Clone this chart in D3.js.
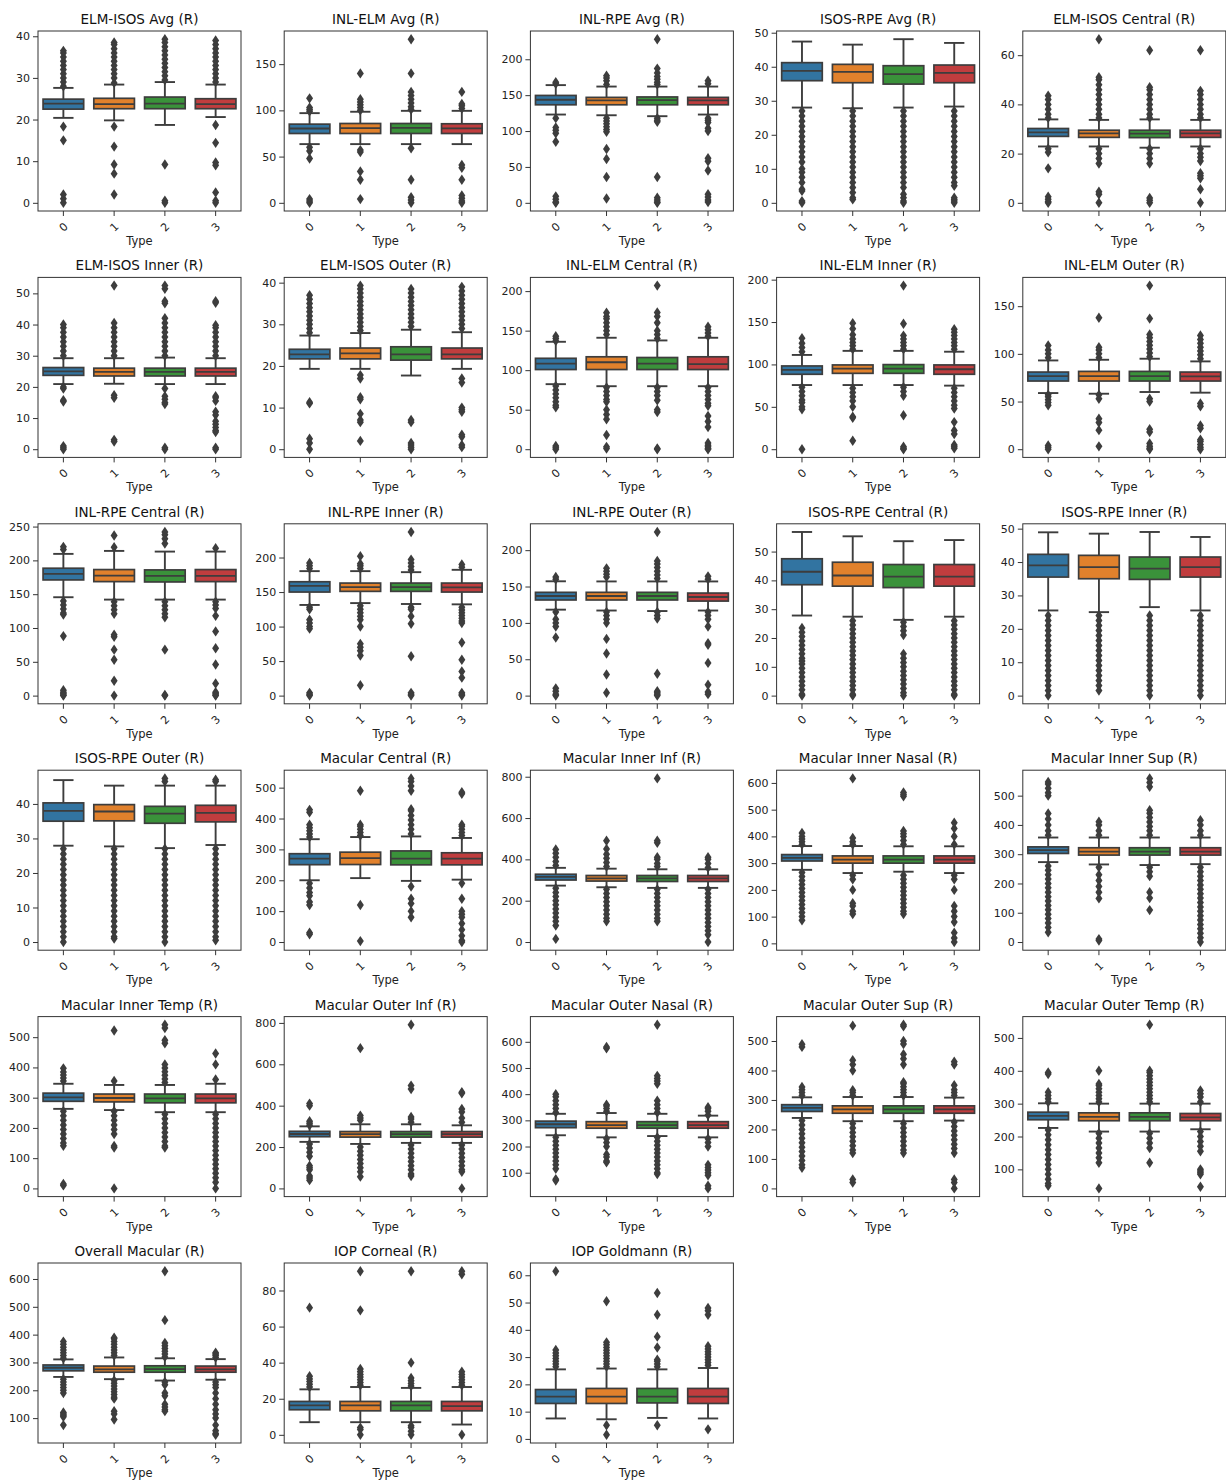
<!DOCTYPE html>
<html>
<head>
<meta charset="utf-8">
<script src="https://cdn.jsdelivr.net/npm/d3@7"></script>
<style>
  body { margin: 0; background: #fff; }
  svg { display: block; font-family: "DejaVu Sans", sans-serif; }
</style>
</head>
<body>
<svg></svg>
<script>
// panel titles, one per measured column
const titles = [
  "ELM-ISOS Avg (R)", "INL-ELM Avg (R)", "INL-RPE Avg (R)", "ISOS-RPE Avg (R)", "ELM-ISOS Central (R)",
  "ELM-ISOS Inner (R)", "ELM-ISOS Outer (R)", "INL-ELM Central (R)", "INL-ELM Inner (R)", "INL-ELM Outer (R)",
  "INL-RPE Central (R)", "INL-RPE Inner (R)", "INL-RPE Outer (R)", "ISOS-RPE Central (R)", "ISOS-RPE Inner (R)",
  "ISOS-RPE Outer (R)", "Macular Central (R)", "Macular Inner Inf (R)", "Macular Inner Nasal (R)", "Macular Inner Sup (R)",
  "Macular Inner Temp (R)", "Macular Outer Inf (R)", "Macular Outer Nasal (R)", "Macular Outer Sup (R)", "Macular Outer Temp (R)",
  "Overall Macular (R)", "IOP Corneal (R)", "IOP Goldmann (R)"
];

const types = ["0", "1", "2", "3"];
const colors = ["#3274a1", "#e1812c", "#3a923a", "#c03d3e"];

// y tick labels per panel
const yTicks = [
  [0, 10, 20, 30, 40], [0, 50, 100, 150], [0, 50, 100, 150, 200], [0, 10, 20, 30, 40, 50], [0, 20, 40, 60],
  [0, 10, 20, 30, 40, 50], [0, 10, 20, 30, 40], [0, 50, 100, 150, 200], [0, 50, 100, 150, 200], [0, 50, 100, 150],
  [0, 50, 100, 150, 200, 250], [0, 50, 100, 150, 200], [0, 50, 100, 150, 200], [0, 10, 20, 30, 40, 50], [0, 10, 20, 30, 40, 50],
  [0, 10, 20, 30, 40], [0, 100, 200, 300, 400, 500], [0, 200, 400, 600, 800], [0, 100, 200, 300, 400, 500, 600], [0, 100, 200, 300, 400, 500],
  [0, 100, 200, 300, 400, 500], [0, 200, 400, 600, 800], [100, 200, 300, 400, 500, 600], [0, 100, 200, 300, 400, 500], [100, 200, 300, 400, 500],
  [100, 200, 300, 400, 500, 600], [0, 20, 40, 60, 80], [0, 10, 20, 30, 40, 50, 60]
];

// [low whisker, q1, median, q3, high whisker] for types 0..3
const boxStats = [
  [[20.4, 22.5, 23.8, 24.9, 27.6], [19.8, 22.6, 23.7, 25.1, 28.4], [18.7, 22.6, 23.8, 25.4, 29.0], [20.6, 22.6, 23.7, 25.0, 28.4]],
  [[63.5, 75, 80.4, 85.1, 97], [63.5, 75, 80.8, 85.8, 98.5], [63.5, 75, 81, 85.8, 99.5], [63.5, 75, 80.6, 85.5, 99.5]],
  [[123, 136.6, 143.6, 149.6, 164], [122, 136.6, 142.7, 146.9, 162], [120.7, 136.6, 143, 147.5, 162], [123, 136.6, 142.7, 146.9, 162]],
  [[28, 35.9, 38.8, 41.2, 47.4], [27.8, 35.3, 38.5, 40.7, 46.5], [28, 34.9, 37.8, 40.3, 48.1], [28.3, 35.3, 38.2, 40.5, 47]],
  [[22.9, 27, 28.6, 30.2, 33.9], [22.9, 26.6, 28.2, 29.5, 33.7], [22.4, 26.5, 28.1, 29.5, 33.9], [22.9, 26.6, 28.2, 29.5, 33.7]],
  [[20.9, 23.7, 25, 26.2, 29.2], [21, 23.5, 24.8, 26, 29.2], [20.9, 23.5, 24.8, 26, 29.4], [20.9, 23.5, 24.8, 26, 29.2]],
  [[19.3, 21.7, 22.8, 24, 27.3], [19.3, 21.7, 23, 24.3, 27.9], [17.7, 21.4, 22.8, 24.6, 28.7], [19.3, 21.7, 22.8, 24.3, 28.1]],
  [[82.3, 100.8, 108.4, 115, 135.9], [79.7, 100.8, 110, 116.9, 141], [79.7, 100.8, 108.4, 116, 137.6], [79.7, 100.8, 107.6, 116.9, 141]],
  [[75.7, 88.4, 93.5, 98.2, 111.2], [75.7, 89.5, 95, 99.4, 116], [75.7, 89.5, 95, 99.8, 116], [75, 88.4, 94.3, 99.4, 115]],
  [[58.9, 71.5, 76.7, 80.9, 93.1], [58.2, 71.5, 76.7, 81.6, 93.8], [60, 71.5, 76.7, 81.6, 94.9], [59.3, 71.5, 76.4, 80.9, 92.1]],
  [[145.5, 171.1, 180, 188.4, 209.6], [142, 168.6, 177.5, 186.4, 214], [142, 168.1, 177, 185.9, 213], [142, 168.6, 177, 186.4, 213]],
  [[131.3, 150, 159, 164.9, 180.3], [134, 151, 157.2, 163, 180.3], [132.7, 151, 157.2, 163, 178.8], [132.2, 150, 156.7, 163, 182.2]],
  [[118.2, 131.5, 137, 142, 157.2], [117, 131.5, 137, 142, 157], [116.3, 131.5, 137, 142, 157], [117, 130, 135.6, 141, 157]],
  [[27.8, 38.5, 43, 47.5, 56.8], [27.4, 38, 41.7, 46.3, 55.3], [26.3, 37.5, 41.3, 45.5, 53.6], [27.4, 38, 41.3, 45.5, 54]],
  [[25.5, 35.5, 39, 42.3, 48.9], [25, 35, 38.5, 42, 48.5], [26.5, 34.8, 38, 41.5, 49], [25.5, 35.5, 38.5, 41.5, 47.5]],
  [[27.9, 35, 38, 40.3, 46.9], [27.7, 35.1, 37.8, 39.8, 45.3], [27.2, 34.4, 37.2, 39.3, 45.3], [28.1, 34.8, 37.4, 39.6, 45.3]],
  [[200, 250.5, 270, 286, 333], [207, 251, 272, 291, 340], [198, 250, 270, 295, 342], [202, 250, 270, 289, 337]],
  [[273, 300, 315, 328, 359], [265, 295, 308, 322, 355], [262, 293, 308, 322, 352], [262, 293, 308, 322, 352]],
  [[275, 308, 320, 332, 364], [263, 300, 313, 327, 364], [268, 300, 313, 327, 363], [263, 300, 313, 327, 363]],
  [[273, 302.6, 314, 325, 357], [265, 297, 309, 322, 357], [263, 297, 309, 322, 357], [266, 297, 309, 322, 357]],
  [[263, 288, 301, 315, 346], [259, 286, 299, 312, 342], [252, 283, 298, 312, 342], [252, 283, 298, 312, 346]],
  [[225, 250, 263, 276, 300], [215, 248, 262, 275, 310], [220, 248, 262, 275, 310], [220, 248, 262, 275, 305]],
  [[243, 272, 285, 297, 325], [235, 270, 282, 295, 328], [240, 270, 282, 295, 325], [235, 270, 282, 295, 318]],
  [[239, 261, 273, 284, 309], [228, 255, 268, 280, 310], [228, 255, 268, 280, 310], [230, 255, 268, 280, 308]],
  [[226, 251, 263, 274, 301], [215, 248, 260, 272, 300], [215, 248, 260, 272, 300], [222, 248, 258, 270, 300]],
  [[248, 270, 281, 291, 311], [240, 265, 275, 287, 318], [235, 265, 276, 288, 315], [238, 265, 275, 287, 312]],
  [[7, 13.9, 16.3, 18.5, 25.2], [7, 13.3, 16.3, 18.5, 26.5], [7, 13.3, 16.3, 18.5, 26], [5.7, 13.3, 15.9, 18.5, 26.5]],
  [[7.5, 13, 15.5, 18.1, 25.5], [7.2, 13, 15.5, 18.5, 25.8], [7.7, 13.2, 15.5, 18.5, 25.5], [7.5, 13, 15.5, 18.5, 26]]
];

// flier values for types 0..3
const outliers = [
  [[28, 29, 30, 31, 32, 33, 34, 35, 36, 36.5, 18.3, 15, 2, 1, 0],
   [28.8, 30, 31, 32, 33, 34, 35, 36, 37, 38, 38.5, 18.3, 13.5, 9.2, 7, 2],
   [29.5, 30.5, 31.5, 32.5, 33.5, 34.5, 35.5, 36.5, 37.5, 38.5, 39.3, 9.2, 0.5, 0],
   [29, 30, 31, 32, 33, 34, 35, 36, 37, 38, 39, 18.7, 14.4, 9.7, 9, 2.5, 0.5, 0]],
  [[99, 101, 103, 113, 60, 56, 48, 4, 2, 0],
   [100, 103, 106, 109, 112, 140, 57, 55, 34, 25, 4],
   [101, 104, 108, 112, 116, 120, 140, 177, 59, 25, 6, 3, 0],
   [102, 105, 107, 120, 41, 38, 25, 8, 5, 2, 0]],
  [[166, 168, 118, 105, 101, 97, 85, 9, 5, 1, 0],
   [165, 170, 174, 177, 118, 114, 110, 106, 102, 99, 75, 61, 36, 6],
   [165, 168, 172, 176, 181, 187, 228, 118, 115, 113, 36, 7, 4, 1, 0],
   [166, 170, 118, 115, 112, 104, 100, 62, 58, 45, 12, 8, 4, 1]],
  [[27, 25.5, 24, 22.5, 21, 19.5, 18, 16.5, 15, 13.5, 12, 10, 9, 7.5, 6, 4, 3.5, 0.5, 0],
   [27, 25.5, 24, 22.5, 21, 19.5, 18, 16.5, 15, 13.5, 12, 10.5, 9, 7.5, 6, 4.5, 3, 1.5, 1],
   [27, 25.5, 24, 22.5, 21, 19.5, 18, 16.5, 15, 13.5, 12, 10.5, 9, 7.5, 6, 4.5, 2.5, 1.5, 0.5, 0],
   [27, 25.5, 24, 22.5, 21, 19.5, 18, 16.5, 15, 13.5, 12, 10.5, 9, 7.5, 6, 5, 1.5, 1, 0.5, 0]],
  [[34.5, 36, 38, 40, 42, 43.5, 22, 20.5, 14, 2.5, 1.5, 0.5, 0],
   [34.5, 36, 38, 40, 42, 44, 46, 48, 50, 51, 66.5, 22, 20, 18, 16, 4.5, 3.5, 0],
   [34.5, 36, 38, 40, 42, 44, 46, 47, 62, 22, 20, 18, 16, 2, 1, 0],
   [34.5, 36, 38, 40, 42, 44, 45.5, 62, 22, 20, 18.5, 17, 12, 11, 10, 5.5, 0]],
  [[30, 31.5, 33, 34.5, 36, 37.5, 39, 40, 20, 19.5, 15.7, 15.3, 1, 0.5, 0],
   [30, 31.5, 33, 34.5, 36, 37.5, 39, 40.5, 52.5, 17.3, 16.5, 3, 2.5],
   [30, 31.5, 33, 34.5, 36, 37.5, 39, 40.5, 42, 46.8, 47.5, 51.5, 52.5, 19.5, 17, 16, 15, 14.5, 0.5, 0],
   [30, 31.5, 33, 34.5, 36, 37.5, 39, 39.8, 47, 47.5, 17, 16.5, 15.5, 12, 11, 9, 8, 7, 6, 5.5, 0.5, 0]],
  [[28, 29, 30, 31, 32, 33, 34, 35, 36, 37, 11.3, 11, 2.5, 1.5, 0],
   [28.5, 29.5, 30.5, 31.5, 32.5, 33.5, 34.5, 35.5, 36.5, 37.5, 38.5, 39.3, 17.8, 17, 12.5, 12, 8.5, 7, 6.5, 2],
   [29.5, 30.5, 31.5, 32.5, 33.5, 34.5, 35.5, 36.5, 37.5, 38.5, 7, 6.5, 1.5, 1, 0.5, 0],
   [29, 30, 31, 32, 33, 34, 35, 36, 37, 38, 39, 17, 16, 10, 9.5, 9, 3.5, 3, 1, 0.5]],
  [[137, 140, 143, 80, 75, 70, 65, 60, 55.7, 53, 4, 2, 0],
   [145, 150, 155, 160, 165, 168, 172.6, 78, 73, 68, 63, 60, 50, 44, 38, 18, 3, 1],
   [140, 145, 150, 160, 168, 173, 207, 78, 73, 68, 62, 50, 47, 1, 0],
   [143, 147, 151, 155, 78, 73, 68, 63, 58, 55, 42, 35, 28, 8, 5, 3, 1, 0]],
  [[115, 120, 125, 131, 73, 68, 63, 58, 55, 50, 47, 0],
   [118, 122, 126, 130, 135, 142, 148.7, 72, 67, 62, 57, 50, 38.3, 37, 10],
   [118, 122, 126, 130, 134, 148, 193, 73, 68, 63, 40, 3, 1, 0],
   [118, 122, 126, 130, 134, 138, 141.6, 72, 67, 62, 57, 52, 48, 32, 22, 18, 5, 3, 1]],
  [[96, 100, 104, 108.8, 57, 55, 52, 49, 46, 4, 2, 0],
   [96, 100, 104, 107, 137.8, 57, 53, 32, 28, 20, 3],
   [97, 101, 105, 109, 113, 117, 120.3, 137, 171.6, 53, 50, 21, 18, 6, 3, 1, 0],
   [95, 99, 103, 107, 111, 115, 119.3, 48, 45, 25, 22, 10, 8, 5, 2, 0]],
  [[216, 220, 140, 134, 128, 122, 120, 88, 8, 5, 3, 1, 0],
   [219.4, 236.7, 139, 133, 127, 121, 90, 87, 68, 53, 22, 0],
   [225, 232, 238, 242, 139, 133, 127, 121, 116, 68, 1, 0],
   [218, 139, 134, 129, 118, 95, 70, 46, 18, 5, 3, 1, 0]],
  [[184, 188, 192, 128, 125, 110, 105, 100, 97, 4, 2, 0],
   [184, 188, 191, 202, 130, 125, 120, 115, 110, 100, 75, 70, 65, 58, 15],
   [182, 187, 192, 197, 237, 128, 125, 115, 104, 57, 4, 2, 0],
   [186, 190, 128, 124, 120, 116, 112, 108, 105, 77, 52, 35, 26, 4, 2, 0]],
  [[160, 163, 115, 105, 100, 95, 80, 10, 6, 2, 0],
   [163, 167, 171, 175, 115, 110, 105, 100, 78, 58, 29, 4],
   [161, 166, 171, 176, 181, 185, 225, 115, 110, 106, 30, 6, 4, 2, 0],
   [160, 164, 115, 110, 105, 95, 72, 70, 45, 15, 5, 2]],
  [[23.5, 22, 20.5, 19, 17.5, 16, 14.5, 13, 12, 11, 9.5, 8, 6.5, 5, 3.5, 2, 0.5, 0],
   [26, 24.5, 23, 21.5, 20, 18.5, 17, 15.5, 14, 12.5, 11, 9.5, 8, 6.5, 5, 3.5, 2, 0.5, 0],
   [25.5, 24, 22.5, 21, 14.5, 13, 11.5, 10, 8.5, 7, 5.5, 4, 2.5, 1, 0],
   [26, 24.5, 23, 21.5, 20, 18.5, 17, 15.5, 14, 12.5, 11, 9.5, 8, 6.5, 5, 3.5, 2, 0.5, 0]],
  [[24, 22.5, 21, 19.5, 18, 16.5, 15, 13.5, 12, 10.5, 9, 7.5, 6, 4.5, 3, 1.5, 0],
   [24, 22.5, 21, 19.5, 18, 16.5, 15, 13.5, 12, 10.5, 9, 7.5, 6, 4.5, 3, 1.5],
   [24, 22.5, 21, 19.5, 18, 16.5, 15, 13.5, 12, 10.5, 9, 7.5, 6, 4.5, 3, 1.5, 0],
   [24, 22.5, 21, 19.5, 18, 16.5, 15, 13.5, 12, 10.5, 9, 7.5, 6, 4.5, 3, 1.5, 0]],
  [[27, 25.5, 24, 22.5, 21, 19.5, 18, 16.5, 15, 13.5, 12, 10.5, 9, 7.5, 6, 4.5, 3, 1.5, 0],
   [27, 25.5, 24, 22.5, 21, 19.5, 18, 16.5, 15, 13.5, 12, 10.5, 9, 7.5, 6, 4.5, 3, 1.5, 1],
   [46.5, 47.4, 27, 25.5, 24, 22.5, 21, 19.5, 18, 16.5, 15, 13.5, 12, 10.5, 9, 7.5, 6, 4.5, 3, 1.5, 0],
   [46.5, 47, 27, 25.5, 24, 22.5, 21, 19.5, 18, 16.5, 15, 13.5, 12, 10.5, 9, 7.5, 6, 4.5, 3, 1.5, 0.5]],
  [[340, 350, 360, 370, 380, 420, 428, 190, 175, 160, 150, 130, 120, 30, 25],
   [345, 355, 365, 375, 380, 490, 120, 3],
   [350, 365, 380, 395, 410, 425, 430, 490, 505, 520, 530, 180, 140, 125, 100, 80],
   [345, 355, 365, 375, 380, 480, 485, 190, 140, 100, 90, 80, 60, 40, 20, 5, 0]],
  [[370, 390, 410, 430, 448, 260, 240, 220, 200, 180, 160, 140, 120, 100, 80, 15],
   [365, 385, 405, 425, 450, 490, 255, 235, 215, 195, 175, 155, 135, 115, 100],
   [365, 380, 400, 410, 480, 490, 792, 255, 235, 215, 195, 175, 155, 135, 115, 100],
   [360, 380, 400, 410, 255, 235, 215, 195, 175, 155, 135, 115, 95, 75, 55, 35, 0]],
  [[370, 380, 390, 400, 413, 265, 250, 235, 220, 205, 190, 175, 160, 145, 130, 115, 100, 86],
   [370, 380, 394, 617, 255, 240, 200, 150, 140, 120, 110],
   [370, 385, 400, 410, 420, 550, 557, 564, 255, 240, 225, 210, 195, 180, 165, 150, 135, 120, 110],
   [370, 400, 430, 451, 255, 240, 200, 140, 120, 100, 80, 40, 20, 5]],
  [[365, 380, 400, 420, 439, 500, 510, 525, 540, 547, 260, 245, 230, 215, 200, 185, 170, 155, 140, 125, 110, 95, 80, 65, 50, 33],
   [365, 380, 400, 411, 255, 230, 210, 190, 170, 149, 10, 5],
   [365, 380, 395, 410, 425, 440, 450, 530, 545, 559, 255, 240, 225, 170, 150, 109],
   [365, 380, 400, 416, 255, 240, 225, 210, 195, 180, 165, 150, 135, 120, 105, 90, 75, 60, 45, 30, 15, 0]],
  [[355, 365, 375, 385, 397, 255, 240, 225, 210, 195, 180, 165, 150, 141, 15, 10],
   [355, 522, 255, 240, 225, 210, 195, 180, 140, 135, 0],
   [350, 362, 374, 386, 398, 410, 480, 490, 530, 541, 245, 230, 215, 200, 185, 170, 155, 140, 135],
   [360, 410, 446, 245, 230, 215, 200, 185, 170, 155, 140, 125, 110, 95, 80, 65, 50, 35, 20, 0]],
  [[305, 315, 325, 400, 410, 215, 195, 175, 155, 110, 100, 90, 60, 50, 40],
   [330, 340, 352, 678, 200, 180, 160, 140, 120, 100, 80, 57],
   [320, 335, 345, 480, 497, 791, 210, 190, 170, 150, 130, 110, 90, 70, 60],
   [320, 340, 370, 384, 460, 465, 210, 190, 170, 150, 130, 110, 90, 80, 0]],
  [[330, 345, 360, 375, 390, 400, 235, 220, 205, 190, 175, 160, 145, 130, 115, 75, 70],
   [335, 345, 355, 360, 575, 580, 230, 215, 200, 170, 160, 145, 140],
   [330, 345, 360, 375, 440, 450, 460, 470, 665, 235, 220, 205, 190, 175, 160, 145, 130, 115, 100, 95],
   [320, 335, 345, 350, 230, 215, 200, 130, 120, 110, 100, 90, 50, 40]],
  [[315, 325, 335, 344, 480, 489, 230, 215, 200, 185, 170, 155, 140, 125, 110, 95, 80, 70],
   [315, 325, 333, 400, 420, 435, 552, 220, 205, 190, 175, 160, 145, 130, 120, 30, 20],
   [315, 325, 335, 345, 355, 360, 420, 440, 455, 490, 500, 550, 555, 220, 205, 190, 175, 160, 145, 130, 120],
   [315, 325, 335, 350, 420, 430, 225, 210, 195, 180, 165, 150, 135, 120, 30, 20, 0]],
  [[305, 315, 325, 335, 390, 395, 220, 205, 190, 175, 160, 145, 130, 115, 100, 85, 70, 57, 50],
   [305, 315, 325, 335, 345, 355, 360, 400, 210, 195, 180, 165, 150, 135, 120, 42],
   [305, 315, 325, 335, 345, 355, 365, 375, 385, 395, 400, 540, 210, 195, 180, 165, 120],
   [305, 320, 330, 340, 215, 200, 185, 170, 155, 100, 95, 90, 85, 47]],
  [[315, 325, 335, 345, 355, 365, 375, 240, 230, 220, 210, 200, 190, 120, 115, 110, 105, 75],
   [325, 335, 345, 355, 365, 375, 385, 389, 235, 225, 215, 205, 195, 185, 175, 170, 125, 115, 95],
   [320, 330, 340, 350, 360, 370, 452, 628, 230, 220, 190, 180, 150, 140, 130, 125],
   [318, 325, 330, 335, 230, 220, 210, 190, 170, 150, 130, 115, 100, 75, 55, 45, 40]],
  [[26.5, 28, 29.5, 31, 32.5, 70.5],
   [27.5, 29, 30.5, 32, 33.5, 35, 36.5, 69, 90.7, 4, 3, 0],
   [27, 28.5, 30, 31.5, 40, 90.7, 5, 4, 2, 0],
   [27.5, 29, 30.5, 32, 33.5, 35, 89, 90.7, 0]],
  [[26.5, 27.5, 28.5, 29.5, 30.5, 31.5, 32.6, 61.5],
   [26.5, 27.5, 28.5, 29.5, 30.5, 31.5, 32.5, 33.5, 34.5, 35.4, 50.5, 5, 1.5],
   [26.5, 27.5, 28.5, 29, 33.5, 37.5, 45.5, 53.5, 5],
   [27, 28, 29, 30, 31, 32, 33, 34, 45.5, 47, 48, 3.5]]
];

// Set the dimensions of each small panel
const panelW = 203;
const panelH = 180;
const gray = "#3d3d3d";

const svg = d3.select("svg")
  .attr("width", 1226)
  .attr("height", 1481);

// thin diamond used for fliers
const diamond = "M0,-5.2L3.5,0L0,5.2L-3.5,0Z";

titles.forEach(function(title, i) {
  const col = i % 5;
  const row = Math.floor(i / 5);
  const g = svg.append("g")
    .attr("transform", "translate(" + (38 + col * 246.2) + "," + (31 + row * 246.4) + ")");

  // y domain like matplotlib: data extent plus 5% margin
  const allVals = boxStats[i].flatMap(s => [s[0], s[4]]).concat(outliers[i].flat());
  const ext = d3.extent(allVals);
  const pad = (ext[1] - ext[0]) * 0.05;
  const y = d3.scaleLinear()
    .domain([ext[0] - pad, ext[1] + pad])
    .range([panelH, 0]);

  const x = d3.scaleBand()
    .domain(types)
    .range([0, panelW])
    .paddingInner(0.2)
    .paddingOuter(0.1);
  const bw = x.bandwidth();

  // Add Y axis
  const yAxis = g.append("g")
    .call(d3.axisLeft(y)
      .tickValues(yTicks[i].filter(t => t >= y.domain()[0] && t <= y.domain()[1]))
      .tickSize(5).tickSizeOuter(0).tickPadding(3));
  yAxis.select(".domain").remove();
  yAxis.selectAll("line").attr("stroke", "#333");
  yAxis.selectAll("text").attr("font-size", "11px").attr("fill", "#222")
    .attr("font-family", "DejaVu Sans");

  // Add X axis with rotated labels
  const xAxis = g.append("g")
    .attr("transform", "translate(0," + panelH + ")")
    .call(d3.axisBottom(x).tickSize(5).tickSizeOuter(0));
  xAxis.select(".domain").remove();
  xAxis.selectAll("line").attr("stroke", "#333");
  xAxis.selectAll("text")
    .attr("font-size", "11px").attr("fill", "#222").attr("font-family", "DejaVu Sans")
    .attr("y", 0).attr("dy", "0.35em")
    .attr("text-anchor", "middle")
    .attr("transform", "translate(0,16) rotate(-45)");

  // boxes, whiskers, medians
  types.forEach(function(t, k) {
    const s = boxStats[i][k];
    const cx = x(t) + bw / 2;
    const bg = g.append("g");

    bg.append("line")
      .attr("x1", cx).attr("x2", cx)
      .attr("y1", y(s[3])).attr("y2", y(s[4]))
      .attr("stroke", gray).attr("stroke-width", 1.9);
    bg.append("line")
      .attr("x1", cx).attr("x2", cx)
      .attr("y1", y(s[1])).attr("y2", y(s[0]))
      .attr("stroke", gray).attr("stroke-width", 1.9);
    [s[0], s[4]].forEach(v => {
      bg.append("line")
        .attr("x1", cx - bw / 4).attr("x2", cx + bw / 4)
        .attr("y1", y(v)).attr("y2", y(v))
        .attr("stroke", gray).attr("stroke-width", 1.9);
    });

    bg.append("rect")
      .attr("x", x(t))
      .attr("y", y(s[3]))
      .attr("width", bw)
      .attr("height", y(s[1]) - y(s[3]))
      .attr("fill", colors[k])
      .attr("stroke", gray)
      .attr("stroke-width", 1.7);

    bg.append("line")
      .attr("x1", x(t)).attr("x2", x(t) + bw)
      .attr("y1", y(s[2])).attr("y2", y(s[2]))
      .attr("stroke", gray).attr("stroke-width", 1.8);

    bg.selectAll("path.flier")
      .data(outliers[i][k])
      .enter().append("path")
      .attr("class", "flier")
      .attr("d", diamond)
      .attr("transform", d => "translate(" + cx + "," + y(d) + ")")
      .attr("fill", gray);
  });

  // frame
  g.append("rect")
    .attr("width", panelW).attr("height", panelH)
    .attr("fill", "none")
    .attr("stroke", "#333")
    .attr("stroke-width", 1);

  // title and x label
  g.append("text")
    .attr("x", panelW / 2).attr("y", -7)
    .attr("text-anchor", "middle")
    .attr("font-size", "13.5px")
    .attr("fill", "#111")
    .text(title);

  g.append("text")
    .attr("x", panelW / 2).attr("y", panelH + 34)
    .attr("text-anchor", "middle")
    .attr("font-size", "11.5px")
    .attr("fill", "#222")
    .text("Type");
});
</script>
</body>
</html>
